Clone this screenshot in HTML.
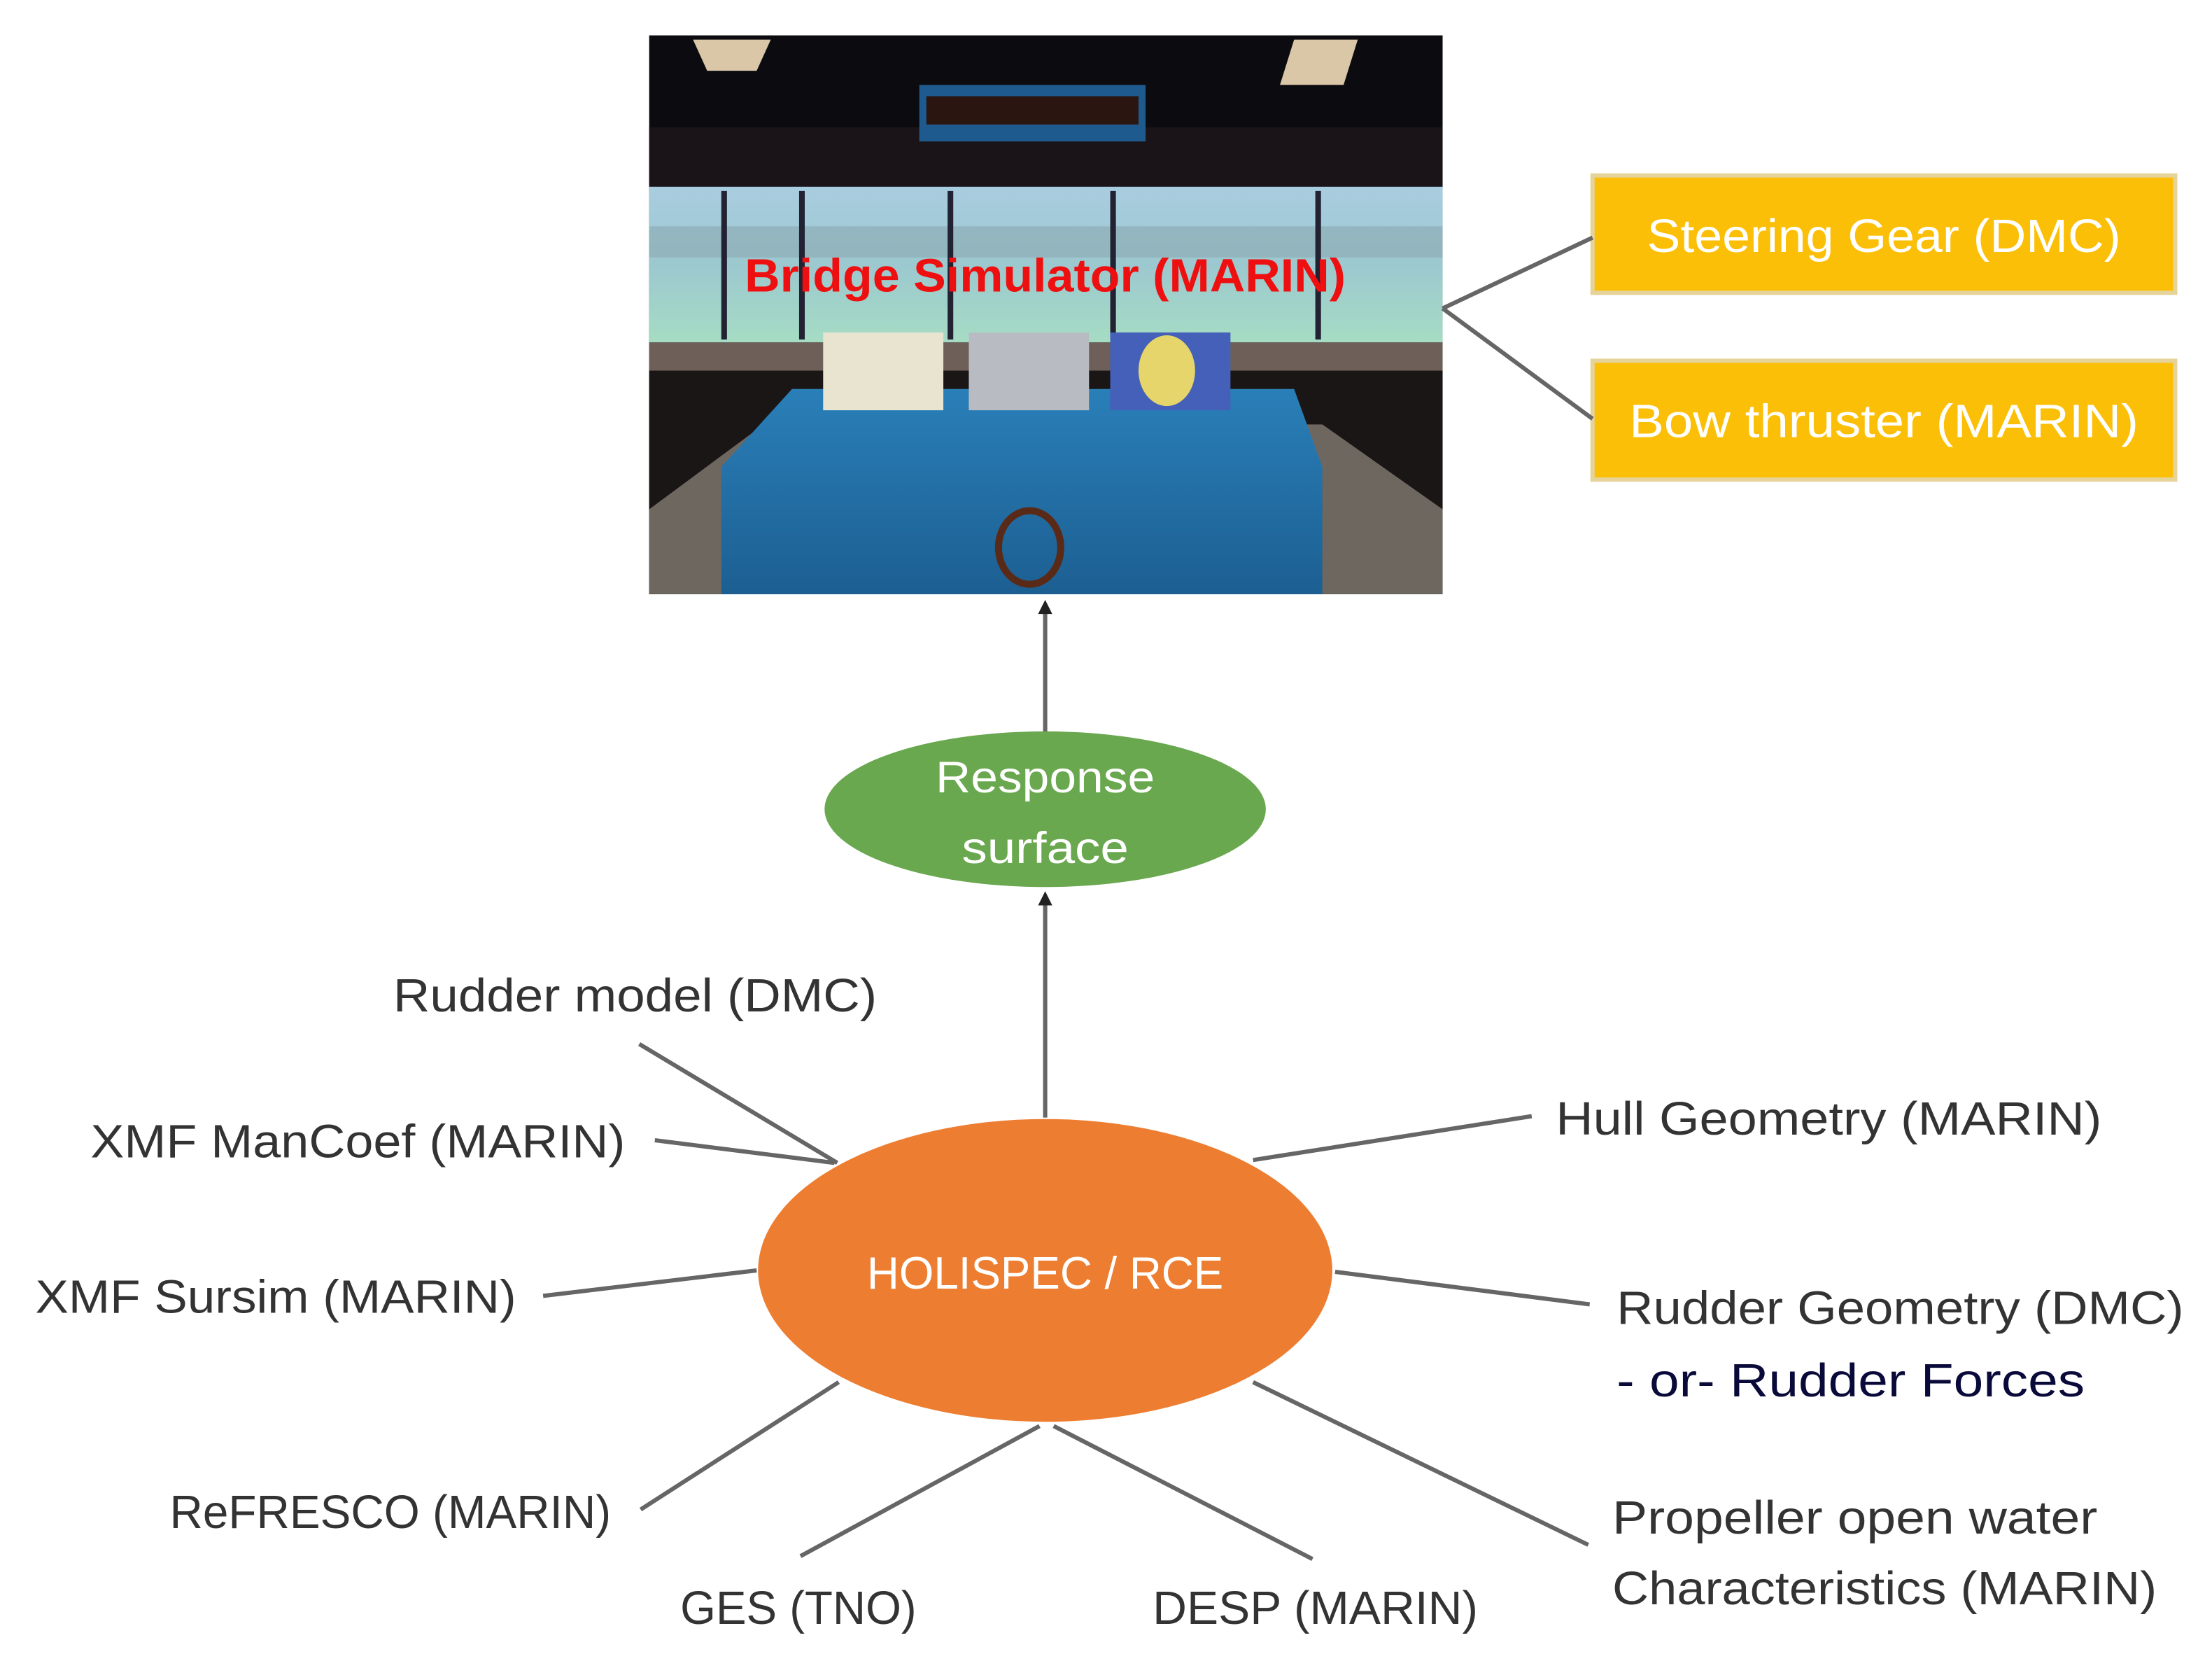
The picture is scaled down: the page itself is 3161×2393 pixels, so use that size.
<!DOCTYPE html>
<html><head><meta charset="utf-8"><style>
html,body{margin:0;padding:0;background:#fff;}
svg{display:block;}
text{font-family:"Liberation Sans",sans-serif;}
</style></head><body>
<svg width="3161" height="2393" viewBox="0 0 1564 1184" xmlns="http://www.w3.org/2000/svg">
<defs>
<linearGradient id="win" x1="0" y1="0" x2="0" y2="1">
<stop offset="0" stop-color="#a9cde0"/><stop offset="0.5" stop-color="#9cc8cf"/><stop offset="1" stop-color="#a6dcc4"/>
</linearGradient>
<linearGradient id="cons" x1="0" y1="0" x2="0" y2="1">
<stop offset="0" stop-color="#2a7fb8"/><stop offset="1" stop-color="#1c5f92"/>
</linearGradient>
</defs>
<!-- photo -->
<rect x="459" y="25" width="561" height="395" fill="#0b0b10"/>
<rect x="459" y="90" width="561" height="45" fill="#1a1418"/>
<polygon points="490,28 545,28 535,50 500,50" fill="#d9c7a8"/>
<polygon points="915,28 960,28 950,60 905,60" fill="#d9c7a8"/>
<rect x="650" y="60" width="160" height="40" fill="#1f5a8f"/>
<rect x="655" y="68" width="150" height="20" fill="#2a1510"/>
<rect x="459" y="132" width="561" height="110" fill="url(#win)"/>
<rect x="459" y="160" width="561" height="22" fill="#8aa8b0" opacity="0.6"/>
<rect x="510" y="135" width="4" height="105" fill="#223"/>
<rect x="565" y="135" width="4" height="105" fill="#223"/>
<rect x="670" y="135" width="4" height="105" fill="#223"/>
<rect x="785" y="135" width="4" height="105" fill="#223"/>
<rect x="930" y="135" width="4" height="105" fill="#223"/>
<rect x="459" y="242" width="561" height="20" fill="#6e6058"/>
<rect x="459" y="262" width="561" height="158" fill="#1a1616"/>
<polygon points="459,360 540,300 935,300 1020,360 1020,420 459,420" fill="#6d6760"/>
<polygon points="560,275 915,275 935,330 935,420 510,420 510,330" fill="url(#cons)"/>
<rect x="582" y="235" width="85" height="55" fill="#e8e4cf"/>
<rect x="685" y="235" width="85" height="55" fill="#b8bcc2"/>
<rect x="785" y="235" width="85" height="55" fill="#4560b8"/>
<ellipse cx="825" cy="262" rx="20" ry="25" fill="#e5d56a"/>
<ellipse cx="728" cy="387" rx="22" ry="26" fill="none" stroke="#5a2a18" stroke-width="5"/>
<text x="739" y="206" text-anchor="middle" font-size="33" font-weight="bold" fill="#ee1010" textLength="425" lengthAdjust="spacingAndGlyphs">Bridge Simulator (MARIN)</text>
<!-- yellow boxes -->
<rect x="1126" y="124" width="412" height="83" fill="#fcbf07" stroke="#e6d39a" stroke-width="3"/>
<rect x="1126" y="255" width="412" height="84" fill="#fcbf07" stroke="#e6d39a" stroke-width="3"/>
<text x="1332" y="178" text-anchor="middle" font-size="33" fill="#fff" textLength="335" lengthAdjust="spacingAndGlyphs">Steering Gear (DMC)</text>
<text x="1332" y="309" text-anchor="middle" font-size="33" fill="#fff" textLength="360" lengthAdjust="spacingAndGlyphs">Bow thruster (MARIN)</text>
<g stroke="#666" stroke-width="3" fill="none">
<line x1="1020" y1="218" x2="1126" y2="168"/>
<line x1="1020" y1="218" x2="1126" y2="296"/>
<line x1="739" y1="520" x2="739" y2="432"/>
<line x1="739" y1="790" x2="739" y2="638"/>
<line x1="452" y1="738" x2="592" y2="822"/>
<line x1="463" y1="806" x2="590" y2="822"/>
<line x1="384" y1="916" x2="535" y2="898"/>
<line x1="886" y1="820" x2="1083" y2="789"/>
<line x1="944" y1="899" x2="1124" y2="922"/>
<line x1="453" y1="1067" x2="593" y2="977"/>
<line x1="566" y1="1100" x2="735" y2="1008"/>
<line x1="745" y1="1008" x2="928" y2="1102"/>
<line x1="886" y1="977" x2="1123" y2="1092"/>
</g>
<polygon points="734,434 744,434 739,424" fill="#222"/>
<polygon points="734,640 744,640 739,630" fill="#222"/>
<!-- ellipses -->
<ellipse cx="739" cy="572" rx="156" ry="55" fill="#6aa84f"/>
<text x="739" y="560" text-anchor="middle" font-size="31" fill="#fff" textLength="155" lengthAdjust="spacingAndGlyphs">Response</text>
<text x="739" y="610" text-anchor="middle" font-size="31" fill="#fff" textLength="118" lengthAdjust="spacingAndGlyphs">surface</text>
<ellipse cx="739" cy="898" rx="203" ry="107" fill="#ed7d31"/>
<text x="739" y="911" text-anchor="middle" font-size="32" fill="#fff" textLength="252" lengthAdjust="spacingAndGlyphs">HOLISPEC / RCE</text>
<!-- labels -->
<g font-size="33" fill="#333" lengthAdjust="spacingAndGlyphs">
<text x="278" y="715" textLength="342" lengthAdjust="spacingAndGlyphs">Rudder model (DMC)</text>
<text x="64" y="818" textLength="378" lengthAdjust="spacingAndGlyphs">XMF ManCoef (MARIN)</text>
<text x="25" y="928" textLength="340" lengthAdjust="spacingAndGlyphs">XMF Sursim (MARIN)</text>
<text x="1100" y="802" textLength="386" lengthAdjust="spacingAndGlyphs">Hull Geometry (MARIN)</text>
<text x="1143" y="936" textLength="401" lengthAdjust="spacingAndGlyphs">Rudder Geometry (DMC)</text>
<text x="1143" y="987" fill="#0a0a3a" textLength="331" lengthAdjust="spacingAndGlyphs">- or- Rudder Forces</text>
<text x="120" y="1080" textLength="312" lengthAdjust="spacingAndGlyphs">ReFRESCO (MARIN)</text>
<text x="481" y="1148" textLength="167" lengthAdjust="spacingAndGlyphs">GES (TNO)</text>
<text x="815" y="1148" textLength="230" lengthAdjust="spacingAndGlyphs">DESP (MARIN)</text>
<text x="1140" y="1084" textLength="343" lengthAdjust="spacingAndGlyphs">Propeller open water</text>
<text x="1140" y="1134" textLength="385" lengthAdjust="spacingAndGlyphs">Characteristics (MARIN)</text>
</g>
</svg>
</body></html>
